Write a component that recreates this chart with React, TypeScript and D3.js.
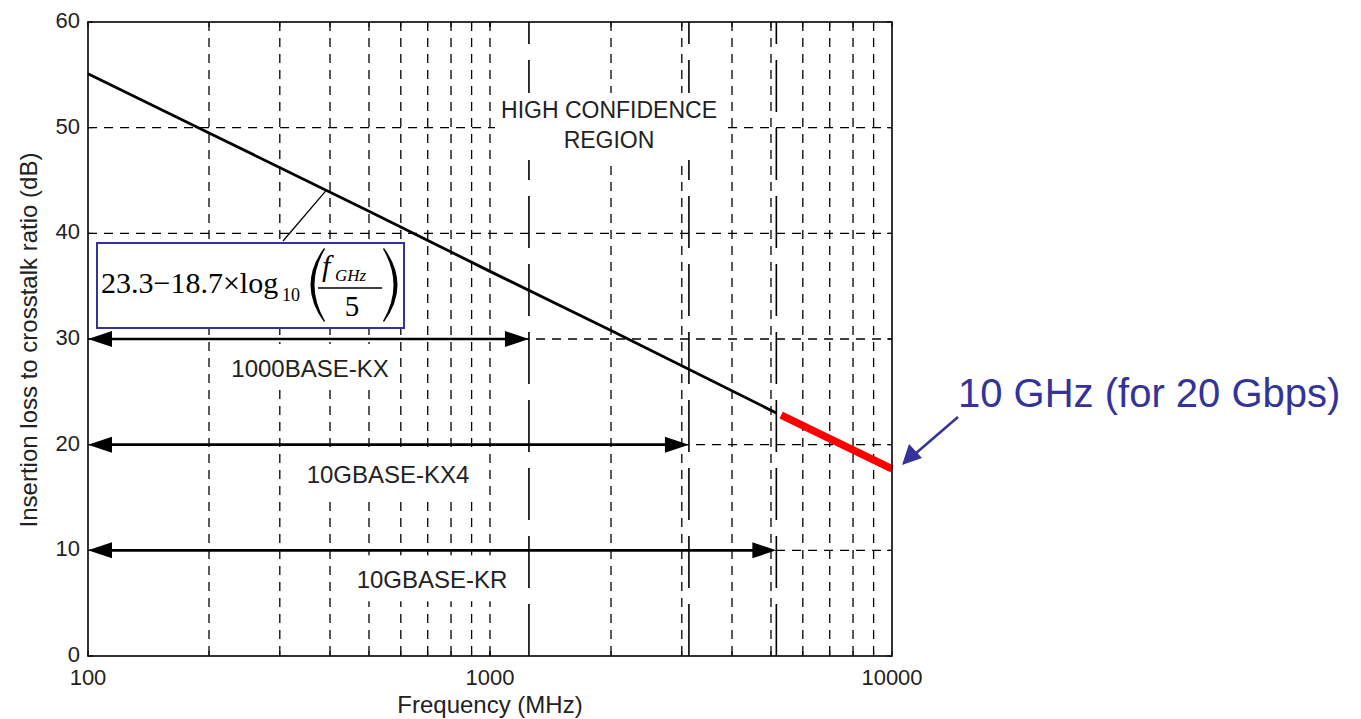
import React from 'react';
import * as d3 from 'd3';

// ---- data ----
const curveFreqMHz = [100, 200, 500, 1000, 2000, 5156];
const curveLossDb = [55.1, 49.5, 42.1, 36.4, 30.8, 23.0];
const extFreqMHz = [5300, 10000];
const extLossDb = [22.8, 17.7];
const stdNames = ['1000BASE-KX', '10GBASE-KX4', '10GBASE-KR'];
const stdLevelsDb = [30, 20, 10];
const stdMaxFreqMHz = [1250, 3125, 5156];
const xTickValues = [100, 1000, 10000];
const xTickLabels = ['100', '1000', '10000'];
const yTickValues = [0, 10, 20, 30, 40, 50, 60];
const yTickLabels = ['0', '10', '20', '30', '40', '50', '60'];
const xGridValues = [200, 300, 400, 500, 600, 700, 800, 900, 1000, 2000, 3000, 4000, 5000, 6000, 7000, 8000, 9000];
const yGridValues = [10, 20, 30, 40, 50];
const leaderPoint = [390, 44.0];

// ---- layout ----
const W = 1361, H = 719;
const L = 88, R = 892, T = 22, B = 656;
const SANS = '"Liberation Sans", Arial, sans-serif';
const SERIF = '"Liberation Serif", "Times New Roman", serif';
const BLUE = '#333399';
const labelCx = [310, 388, 432];

export default function App() {
  const x = d3.scaleLog().domain([100, 10000]).range([L, R]);
  const y = d3.scaleLinear().domain([0, 60]).range([B, T]);
  const line = d3.line<[number, number]>().x(d => x(d[0])).y(d => y(d[1]));
  const curve = line(curveFreqMHz.map((f, i) => [f, curveLossDb[i]] as [number, number])) || '';
  const ext = line(extFreqMHz.map((f, i) => [f, extLossDb[i]] as [number, number])) || '';
  const dash = '9,7';

  return (
    <svg width={W} height={H} style={{ position: 'absolute', left: 0, top: 0, background: '#fff' }}>
      <rect x={0} y={0} width={W} height={H} fill="#fff" />
      {/* grid */}
      {xGridValues.map(v => (
        <line key={'gx' + v} x1={x(v)} x2={x(v)} y1={T} y2={B} stroke="#000" strokeWidth={1.3} strokeDasharray={dash} />
      ))}
      {yGridValues.map(v => (
        <line key={'gy' + v} x1={L} x2={R} y1={y(v)} y2={y(v)} stroke="#000" strokeWidth={1.3} strokeDasharray={dash} />
      ))}
      {/* standard limit lines (long dash) */}
      {stdMaxFreqMHz.map(f => (
        <line key={'sl' + f} x1={x(f)} x2={x(f)} y1={B} y2={T} stroke="#000" strokeWidth={1.6} strokeDasharray="52,16" />
      ))}
      {/* ticks */}
      {xGridValues.concat(xTickValues).map(v => (
        <g key={'tx' + v}>
          <line x1={x(v)} x2={x(v)} y1={B} y2={B - 5} stroke="#000" strokeWidth={1} />
          <line x1={x(v)} x2={x(v)} y1={T} y2={T + 5} stroke="#000" strokeWidth={1} />
        </g>
      ))}
      {yTickValues.map(v => (
        <g key={'ty' + v}>
          <line x1={L} x2={L + 5} y1={y(v)} y2={y(v)} stroke="#000" strokeWidth={1} />
          <line x1={R} x2={R - 5} y1={y(v)} y2={y(v)} stroke="#000" strokeWidth={1} />
        </g>
      ))}
      {/* curve */}
      <path d={curve} fill="none" stroke="#000" strokeWidth={2.8} />
      <path d={ext} fill="none" stroke="#ff0000" strokeWidth={7.5} />
      {/* standard arrows */}
      {stdLevelsDb.map((lv, i) => {
        const x0 = x(100), x1 = x(stdMaxFreqMHz[i]), yy = y(lv);
        return (
          <g key={'ar' + i}>
            <line x1={x0 + 10} x2={x1 - 10} y1={yy} y2={yy} stroke="#000" strokeWidth={2.6} />
            <polygon points={`${x0},${yy} ${x0 + 24},${yy - 8} ${x0 + 24},${yy + 8}`} fill="#000" />
            <polygon points={`${x1},${yy} ${x1 - 24},${yy - 8} ${x1 - 24},${yy + 8}`} fill="#000" />
          </g>
        );
      })}
      {/* standard labels */}
      {stdNames.map((n, i) => {
        const by = y(stdLevelsDb[i]) + 38;
        return (
          <g key={'lb' + i}>
            <rect x={labelCx[i] - 88} y={by - 33} width={176} height={46} fill="#fff" />
            <text x={labelCx[i]} y={by} textAnchor="middle" fontFamily={SANS} fontSize={24} fill="#222">{n}</text>
          </g>
        );
      })}
      {/* high confidence region */}
      <rect x={495} y={93} width={230} height={67} fill="#fff" />
      <text x={609} y={118} textAnchor="middle" fontFamily={SANS} fontSize={23} fill="#222">HIGH CONFIDENCE</text>
      <text x={609} y={148} textAnchor="middle" fontFamily={SANS} fontSize={23} fill="#222">REGION</text>
      {/* frame */}
      <rect x={L} y={T} width={R - L} height={B - T} fill="none" stroke="#000" strokeWidth={1.6} />
      {/* formula box */}
      <line x1={283} y1={241} x2={x(leaderPoint[0])} y2={y(leaderPoint[1])} stroke="#000" strokeWidth={1.3} />
      <rect x={97} y={243} width={307} height={85} fill="#fff" stroke={BLUE} strokeWidth={2} />
      <text x={101} y={293} fontFamily={SERIF} fontSize={30} fill="#000">23.3−18.7×log</text>
      <text x={282} y={301} fontFamily={SERIF} fontSize={18} fill="#000">10</text>
      <path d="M 324 248 Q 297 285 324 322 L 325 321 Q 304 285 325 249 Z" fill="#000" />
      <path d="M 384 248 Q 411 285 384 322 L 383 321 Q 404 285 383 249 Z" fill="#000" />
      <text x={322} y={276} fontFamily={SERIF} fontStyle="italic" fontSize={30} fill="#000">f</text>
      <text x={335} y={281} fontFamily={SERIF} fontStyle="italic" fontSize={17} fill="#000">GHz</text>
      <line x1={318} x2={382} y1={288} y2={288} stroke="#000" strokeWidth={1.5} />
      <text x={352} y={316} textAnchor="middle" fontFamily={SERIF} fontSize={29} fill="#000">5</text>
      {/* axis tick labels */}
      {yTickValues.map((v, i) => (
        <text key={'yl' + v} x={80} y={y(v) + 6} textAnchor="end" fontFamily={SANS} fontSize={22} fill="#222">{yTickLabels[i]}</text>
      ))}
      {xTickValues.map((v, i) => (
        <text key={'xl' + v} x={x(v)} y={685} textAnchor="middle" fontFamily={SANS} fontSize={22} fill="#222">{xTickLabels[i]}</text>
      ))}
      <text x={490} y={713} textAnchor="middle" fontFamily={SANS} fontSize={24} fill="#222">Frequency (MHz)</text>
      <text transform="translate(37,340) rotate(-90)" textAnchor="middle" fontFamily={SANS} fontSize={24} fill="#222">Insertion loss to crosstalk ratio (dB)</text>
      {/* annotation */}
      <text x={958} y={407} fontFamily={SANS} fontSize={40} fill={BLUE}>10 GHz (for 20 Gbps)</text>
      <line x1={958} y1={417} x2={915} y2={454} stroke={BLUE} strokeWidth={2.5} />
      <polygon points="902,465 909,444 922,458" fill={BLUE} />
    </svg>
  );
}
